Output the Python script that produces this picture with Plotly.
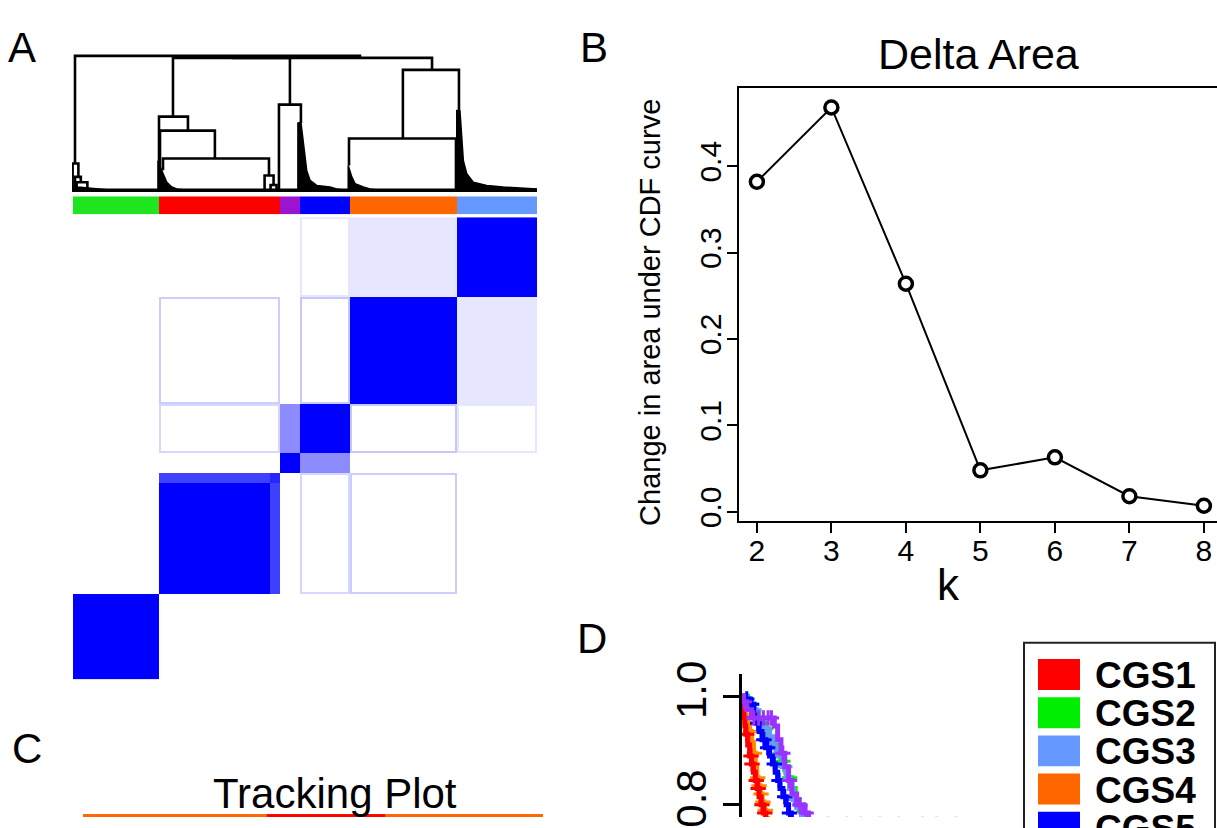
import numpy as np
import plotly.graph_objects as go

W, H = 1217, 828
FONT = "Liberation Sans, Arial, Helvetica, sans-serif"

# ---------------- Panel A : consensus matrix ----------------
cluster_labels = ["CGS2", "CGS1", "CGS6", "CGS5", "CGS4", "CGS3"]   # left-to-right order
cluster_sizes = [43, 61, 10, 25, 54, 40]
cluster_colors = ["#1FE51F", "#FF0000", "#9B14D0", "#0000FF", "#FF6600", "#6699FF"]

block_sizes = [43, 56, 5, 10, 25, 54, 40]
block_consensus = [
    [1.00, 0.00, 0.00, 0.00, 0.00, 0.00, 0.00],
    [0.00, 1.00, 0.75, 0.00, 0.00, 0.00, 0.00],
    [0.00, 0.75, 0.85, 0.00, 0.00, 0.00, 0.00],
    [0.00, 0.00, 0.00, 1.00, 0.45, 0.00, 0.00],
    [0.00, 0.00, 0.00, 0.45, 1.00, 0.00, 0.00],
    [0.00, 0.00, 0.00, 0.00, 0.00, 1.00, 0.10],
    [0.00, 0.00, 0.00, 0.00, 0.00, 0.10, 1.00],
]
# faint consensus of boundary samples between clusters (cluster index pairs)
edge_pairs = [(1, 4, 0.2), (3, 4, 0.22), (1, 3, 0.16), (3, 5, 0.1)]

dendro_merges = [
    (1.5, 144.3, 1.000, 0.200, 0.985),
    (50.6, 109.2, 0.985, 0.548, 0.637),
    (80.0, 180.4, 0.985, 0.985, 0.896),
    (43.6, 58.1, 0.548, 0.000, 0.444),
    (44.1, 71.6, 0.444, 0.000, 0.237),
    (45.6, 98.7, 0.237, 0.150, 0.110),
    (96.5, 101.0, 0.110, 0.000, 0.040),
    (99.5, 102.5, 0.040, 0.000, 0.000),
    (103.7, 114.7, 0.637, 0.000, 0.500),
    (165.8, 193.9, 0.896, 0.385, 0.590),
    (138.8, 192.4, 0.385, 0.185, 0.000),
    (0.3, 3.2, 0.200, 0.000, 0.100),
    (1.5, 4.4, 0.100, 0.000, 0.060),
    (2.3, 7.7, 0.060, 0.000, 0.010),
]

fan_green_x = [0.5, 3.0, 6.0, 10.0, 15.0, 20.0]
fan_green_h = [0.03, 0.025, 0.02, 0.012, 0.006, 0.0]
fan_red_x = [43.1, 43.5, 45.6, 47.5, 50.0, 52.5, 57.0]
fan_red_h = [0.22, 0.20, 0.126, 0.06, 0.025, 0.01, 0.0]
fan_blue_x = [113.2, 114.7, 115.9, 116.8, 117.6, 119.3, 122.6, 129.3, 132.6, 137.0]
fan_blue_h = [0.50, 0.506, 0.37, 0.247, 0.148, 0.074, 0.037, 0.025, 0.01, 0.0]
fan_orange_x = [138.4, 140.2, 141.8, 146.0, 149.3, 154.0]
fan_orange_h = [0.185, 0.10, 0.05, 0.025, 0.01, 0.0]
fan_lblue_x = [192.8, 194.4, 195.3, 196.1, 197.8, 201.1, 207.8, 216.1, 233.0]
fan_lblue_h = [0.593, 0.59, 0.37, 0.22, 0.124, 0.06, 0.037, 0.025, 0.01]

# ---------------- Panel B ----------------
k_values = [2, 3, 4, 5, 6, 7, 8]
delta_area = [0.382, 0.468, 0.264, 0.048, 0.063, 0.018, 0.007]

# ---------------- Panel C ----------------
track_sizes = [93, 60, 80]
track_colors = ["#FF6600", "#FF0000", "#FF6600"]

# ---------------- Panel D ----------------
legend_labels = ["CGS1", "CGS2", "CGS3", "CGS4", "CGS5", "CGS6"]
legend_colors = ["#FF0000", "#00EE00", "#6699FF", "#FF6600", "#0000FF", "#9933FF"]

cgs1_t = [0, 0.2, 0.4, 0.6, 0.8, 1.2, 1.6, 2.0, 2.4, 2.8, 3.2, 3.6, 4.0, 4.5, 5.0, 5.6, 6.2, 7.0]
cgs1_s = [1.0, 0.98, 0.96, 0.945, 0.93, 0.91, 0.89, 0.875, 0.86, 0.845, 0.83, 0.815, 0.80, 0.785, 0.77, 0.755, 0.74, 0.72]
cgs1_c = [0.5, 1.0, 1.9, 2.1, 3.0, 3.4, 4.2, 4.8]
cgs2_t = [0, 1.2, 2.5, 3.5, 4.5, 5.5, 6.5, 7.5, 8.3, 9.0, 9.8, 10.5, 11.2, 12.0, 13.0, 14.0, 15.0]
cgs2_s = [1.0, 0.985, 0.97, 0.955, 0.94, 0.925, 0.91, 0.895, 0.88, 0.865, 0.85, 0.83, 0.81, 0.79, 0.775, 0.76, 0.745]
cgs2_c = [2.0, 5.0, 8.0, 8.6, 10.0]
cgs3_t = [0, 1.0, 2.0, 3.0, 4.5, 5.5, 6.5, 7.5, 8.5, 9.3, 10.0, 10.8, 11.5, 12.5, 13.5, 15.0, 50.0, 56.0]
cgs3_s = [1.0, 0.99, 0.975, 0.96, 0.94, 0.925, 0.905, 0.89, 0.87, 0.85, 0.83, 0.81, 0.795, 0.78, 0.772, 0.764, 0.745, 0.725]
cgs3_c = [2.5, 6.0, 7.0, 9.0, 11.0, 18, 22, 25, 29, 33, 38, 41, 45]
cgs4_t = [0, 0.3, 0.6, 1.0, 1.5, 2.0, 2.4, 2.8, 3.1, 3.4, 3.8, 4.2, 4.6, 5.0, 5.4, 5.8, 6.5]
cgs4_s = [1.0, 0.985, 0.965, 0.95, 0.935, 0.915, 0.895, 0.87, 0.85, 0.835, 0.82, 0.805, 0.79, 0.775, 0.76, 0.745, 0.73]
cgs4_c = [1.2, 1.8, 2.6, 3.3, 3.6, 4.0, 4.4, 4.9]
cgs5_t = [0, 0.5, 1.5, 2.5, 3.0, 3.6, 4.2, 5.0, 5.8, 6.4, 7.0, 7.5, 8.0, 8.6, 9.3, 9.8, 10.4, 11.0, 11.8]
cgs5_s = [1.0, 0.995, 0.985, 0.965, 0.95, 0.935, 0.92, 0.905, 0.89, 0.875, 0.86, 0.845, 0.83, 0.815, 0.80, 0.785, 0.77, 0.755, 0.74]
cgs5_c = [1.0, 2.0, 3.3, 4.6, 5.4, 6.8, 7.8, 9.0, 10.0]
cgs6_t = [0, 0.3, 1.0, 2.0, 6.8, 7.5, 8.2, 9.0, 9.8, 10.5, 11.5, 13.0, 14.0, 15.0, 16.0]
cgs6_s = [1.0, 0.99, 0.975, 0.96, 0.945, 0.92, 0.895, 0.87, 0.845, 0.82, 0.80, 0.785, 0.77, 0.755, 0.73]
cgs6_c = [0.5, 2.5, 3.5, 4.5, 5.5, 6.2, 8.6, 10.0, 12.2, 13.5]

# ---------------- vertical placement helpers ----------------
# the page is photographed with a small vertical offset/scale; compensate so that
# target screen pixel rows land where they should
V_OFF, V_SC = 12.0, 0.9746


def to_int(p):
    return (p - V_OFF) / V_SC


def yp(p):
    return 1 - to_int(p) / H


def dx(a, b):
    return [max(0.0, a / W), min(1.0, b / W)]


def vaxis(top, bottom, v_top=None, v_bottom=None):
    """domain for target screen rows [top, bottom]; adjusts range if clipped."""
    it, ib = to_int(top), to_int(bottom)
    dom = [max(0.0, 1 - ib / H), min(1.0, 1 - it / H)]
    if v_top is None:
        return dom, None
    per_px = (v_top - v_bottom) / (bottom - top)
    vis_bottom = V_OFF + V_SC * H if ib > H else bottom
    vis_top = V_OFF if it < 0 else top
    rng = [v_bottom + (bottom - vis_bottom) * per_px, v_top - (vis_top - top) * per_px]
    return dom, rng


def discrete_scale(colors):
    n = len(colors)
    sc = []
    for i, c in enumerate(colors):
        sc.append([i / n, c])
        sc.append([(i + 1) / n, c])
    return sc


fig = go.Figure()
N = sum(cluster_sizes)

# ---- dendrogram ----
dxs, dys = [], []
for xl, xr, h, hl, hr in dendro_merges:
    dxs += [xl, xl, xr, xr, None]
    dys += [hl, h, h, hr, None]
fig.add_trace(go.Scatter(x=dxs, y=dys, mode="lines", line=dict(color="black", width=2.6),
                         xaxis="x", yaxis="y", showlegend=False, hoverinfo="skip"))
for fx, fh in [(fan_green_x, fan_green_h), (fan_red_x, fan_red_h), (fan_blue_x, fan_blue_h),
               (fan_orange_x, fan_orange_h), (fan_lblue_x, fan_lblue_h)]:
    fig.add_trace(go.Scatter(x=[fx[0]] + fx + [fx[-1], fx[0]], y=[0] + fh + [0, 0], mode="lines",
                             fill="toself", fillcolor="black", line=dict(color="black", width=1.5),
                             xaxis="x", yaxis="y", showlegend=False, hoverinfo="skip"))
fig.add_trace(go.Scatter(x=[0, N], y=[0, 0], mode="lines", line=dict(color="black", width=3.5),
                         xaxis="x", yaxis="y", showlegend=False, hoverinfo="skip"))

# ---- cluster colour row ----
row_ids = np.repeat(np.arange(len(cluster_sizes)), cluster_sizes)
fig.add_trace(go.Heatmap(z=[row_ids], x=np.arange(N) + 0.5, y=[0], colorscale=discrete_scale(cluster_colors),
                         zmin=0, zmax=len(cluster_sizes) - 1, showscale=False, xaxis="x2", yaxis="y2",
                         hoverinfo="skip"))

# ---- consensus heatmap ----
bid = np.repeat(np.arange(len(block_sizes)), block_sizes)
M = np.array(block_consensus)
Z = M[bid][:, bid].copy()
starts = np.concatenate([[0], np.cumsum(cluster_sizes)[:-1]])
ends = np.cumsum(cluster_sizes)
for a, b, v in edge_pairs:
    for i, j in [(a, b), (b, a)]:
        cols_blk = slice(starts[j], ends[j])
        for r in [starts[i], ends[i] - 1]:
            Z[r, cols_blk] = np.maximum(Z[r, cols_blk], v)
            Z[cols_blk, r] = np.maximum(Z[cols_blk, r], v)
fig.add_trace(go.Heatmap(z=Z, x=np.arange(N) + 0.5, y=np.arange(N) + 0.5,
                         colorscale=[[0, "white"], [1, "#0000FF"]], zmin=0, zmax=1, showscale=False,
                         xaxis="x3", yaxis="y3", hoverinfo="skip"))

# ---- Panel B ----
fig.add_trace(go.Scatter(x=k_values, y=delta_area, mode="lines+markers",
                         line=dict(color="black", width=2),
                         marker=dict(symbol="circle", size=13, color="white",
                                     line=dict(color="black", width=3.5)),
                         xaxis="x4", yaxis="y4", showlegend=False, cliponaxis=False))

# ---- Panel C ----
tr_ids = np.repeat(np.arange(len(track_sizes)), track_sizes)
fig.add_trace(go.Heatmap(z=[tr_ids], x=np.arange(len(tr_ids)) + 0.5, y=[0],
                         colorscale=discrete_scale(track_colors), zmin=0, zmax=len(track_sizes) - 1,
                         showscale=False, xaxis="x5", yaxis="y5", hoverinfo="skip"))

# ---- Panel D ----
km = {
    "CGS1": (cgs1_t, cgs1_s, cgs1_c, "#FF0000"),
    "CGS2": (cgs2_t, cgs2_s, cgs2_c, "#00EE00"),
    "CGS3": (cgs3_t, cgs3_s, cgs3_c, "#6699FF"),
    "CGS4": (cgs4_t, cgs4_s, cgs4_c, "#FF8C00"),
    "CGS5": (cgs5_t, cgs5_s, cgs5_c, "#0000FF"),
    "CGS6": (cgs6_t, cgs6_s, cgs6_c, "#9933FF"),
}


def surv_at(ts, ss, t):
    v = ss[0]
    for ti, si in zip(ts, ss):
        if ti <= t:
            v = si
    return v


for name in ["CGS2", "CGS3", "CGS4", "CGS1", "CGS5", "CGS6"]:
    ts, ss, cs, col = km[name]
    fig.add_trace(go.Scatter(x=ts, y=ss, mode="lines", line=dict(color=col, width=5, shape="hv"),
                             xaxis="x6", yaxis="y6", showlegend=False, name=name))
    fig.add_trace(go.Scatter(x=cs, y=[surv_at(ts, ss, c) for c in cs], mode="markers",
                             marker=dict(symbol="cross-thin", size=11, color=col,
                                         line=dict(color=col, width=3)),
                             xaxis="x6", yaxis="y6", showlegend=False, name=name))

# ---------------- layout ----------------
hidden = dict(visible=False, showgrid=False, zeroline=False)
tickfont_b = dict(family=FONT, size=30, color="black")

d1, r1 = vaxis(52, 193, 138 / 135, -3 / 135)
d2, _ = vaxis(196, 214)
d3, _ = vaxis(217, 681)
d4, r4 = vaxis(87.4, 521.9, 0.4904, -0.0107)
d5, _ = vaxis(816, 850)
d6, r6 = vaxis(675, 828, 1.0417, 0.761)

layout = dict(
    width=W, height=H, margin=dict(l=0, r=0, t=0, b=0),
    paper_bgcolor="white", plot_bgcolor="rgba(0,0,0,0)",
    font=dict(family=FONT, color="black"),
    xaxis=dict(domain=dx(72, 537), range=[0, N], anchor="y", **hidden),
    yaxis=dict(domain=d1, range=r1, anchor="x", **hidden),
    xaxis2=dict(domain=dx(73, 537), range=[0, N], anchor="y2", **hidden),
    yaxis2=dict(domain=d2, range=[-0.5, 0.5], anchor="x2", **hidden),
    xaxis3=dict(domain=dx(73, 537), range=[0, N], anchor="y3", **hidden),
    yaxis3=dict(domain=d3, range=[0, N], anchor="x3", **hidden),
    xaxis4=dict(domain=dx(739.3, 1217), range=[1.764, 8.176], anchor="y4", showgrid=False, zeroline=False,
                showline=True, linecolor="black", linewidth=2, mirror=True, ticks="outside", ticklen=10,
                tickwidth=2, tickcolor="black", tickvals=k_values, tickfont=tickfont_b,
                ticklabelstandoff=-8),
    yaxis4=dict(domain=d4, range=r4, anchor="x4", showgrid=False, zeroline=False,
                showline=True, linecolor="black", linewidth=2, ticks="outside", ticklen=10, tickwidth=2,
                tickcolor="black", tickvals=[0.0, 0.1, 0.2, 0.3, 0.4], ticktext=["0.0", "0.1", "0.2", "0.3", "0.4"],
                tickangle=-90, tickfont=tickfont_b, ticklabelstandoff=-6),
    xaxis5=dict(domain=dx(83, 543), range=[0, sum(track_sizes)], anchor="y5", **hidden),
    yaxis5=dict(domain=d5, range=[-0.5, 0.5], anchor="x5", **hidden),
    xaxis6=dict(domain=dx(742, 1217), range=[0, 100], anchor="y6", **hidden),
    yaxis6=dict(domain=d6, range=r6, anchor="x6", showgrid=False, zeroline=False,
                showline=True, linecolor="black", linewidth=3, ticks="outside", ticklen=16, tickwidth=3,
                tickcolor="black", tickvals=[0.8, 1.0], ticktext=["0.8", "1.0"], tickangle=-90,
                ticklabeloverflow="allow", tickfont=dict(family=FONT, size=42, color="black")),
)
fig.update_layout(**layout)


def ann(text, x, y, size, **kw):
    d = dict(text=text, x=x / W, y=yp(y), xref="paper", yref="paper", showarrow=False,
             font=dict(family=FONT, size=size, color="black"), xanchor="center", yanchor="middle")
    d.update(kw)
    fig.add_annotation(**d)


ann("A", 22, 47, 42)
ann("B", 594, 47, 42)
ann("C", 27, 750, 42)
ann("D", 592, 640, 42)
ann("Delta Area", 978, 53, 43)
ann("Change in area under CDF curve", 650, 313, 29, textangle=-90)
ann("k", 948, 586, 44)
ann("Tracking Plot", 335, 795, 42)

# legend of panel D
fig.add_shape(type="rect", xref="paper", yref="paper", x0=1024 / W, x1=1215 / W, y0=yp(900),
              y1=yp(644), line=dict(color="#222222", width=2), fillcolor="white", layer="above")
for i, (lab, col) in enumerate(zip(legend_labels, legend_colors)):
    cy = 676 + i * 38.3
    if cy - 20 > H:
        continue
    fig.add_shape(type="rect", xref="paper", yref="paper", x0=1038 / W, x1=1080 / W,
                  y0=yp(cy + 15.5), y1=yp(cy - 15.5), line=dict(width=0), fillcolor=col,
                  layer="above")
    ann("<b>%s</b>" % lab, 1093, cy + 1, 37, xanchor="left")

post = ("var gd=document.getElementById('{plot_id}');"
        "gd.style.position='fixed';gd.style.top='0px';gd.style.left='0px';"
        "document.body.style.margin='0';document.body.style.overflow='hidden';")
fig.write_html("out.html", config={"displayModeBar": False}, post_script=post)
